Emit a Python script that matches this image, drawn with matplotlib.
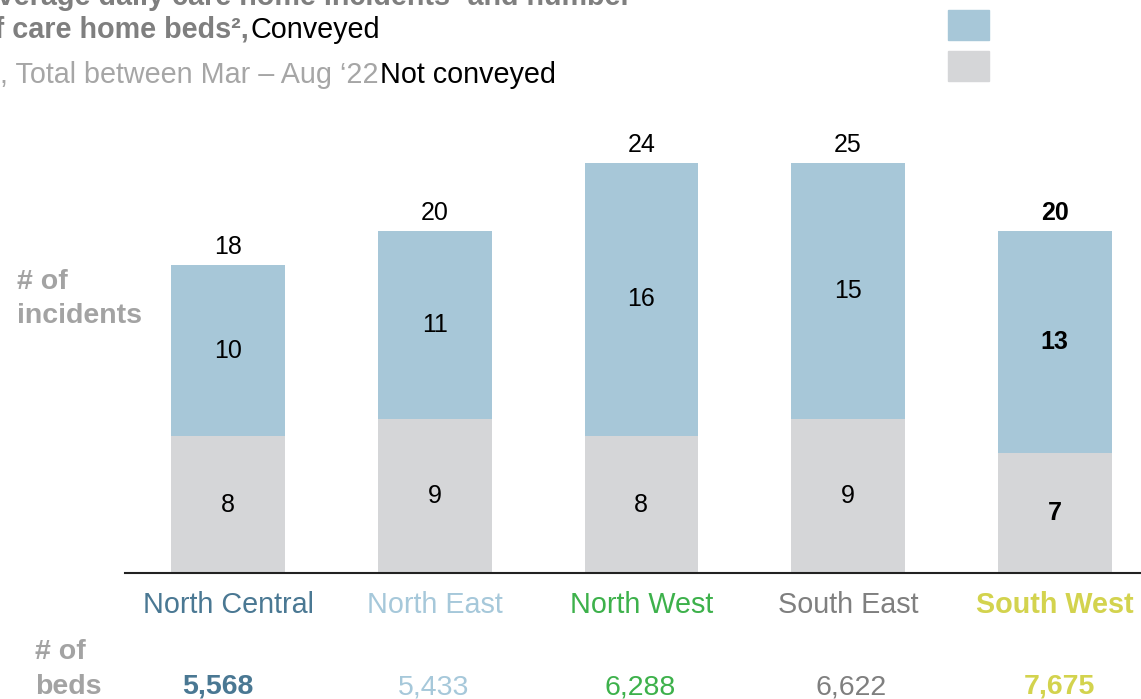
import numpy as np
import matplotlib.pyplot as plt

plt.rcParams['font.family'] = ['Liberation Sans', 'DejaVu Sans']

regions = ['North Central', 'North East', 'North West', 'South East', 'South West']
not_conveyed = [8, 9, 8, 9, 7]
conveyed = [10, 11, 16, 15, 13]
totals = [18, 20, 24, 25, 20]
beds = ['5,568', '5,433', '6,288', '6,622', '7,675']
region_colors = ['#4a7893', '#a6c8da', '#3db14b', '#7f7f7f', '#d3d34e']
bold_regions = [False, False, False, False, True]
bold_beds = [True, False, False, False, True]

W, H = 1141, 699
fig = plt.figure(figsize=(W / 100, H / 100), dpi=100)

def fx(px):
    return px / W

def fy(py):
    return 1 - py / H

# axes in pixel terms: baseline at y=573, from x=125 to the right edge
ax = fig.add_axes([fx(125), fy(573), fx(W - 125), (573 - 100) / H])
x = np.arange(len(regions))
width = 0.55
blue = '#a7c7d8'
grey = '#d5d6d8'
ax.bar(x, not_conveyed, width, color=grey)
ax.bar(x, conveyed, width, bottom=not_conveyed, color=blue)
ax.set_xlim(-0.498, 4.417)
ax.set_ylim(0, (573 - 100) / 17.1)

for i in range(len(regions)):
    w = 'bold' if bold_regions[i] else 'normal'
    ax.text(x[i], not_conveyed[i] / 2, str(not_conveyed[i]), ha='center', va='center',
            fontsize=18, fontweight=w, color='black')
    ax.text(x[i], not_conveyed[i] + conveyed[i] / 2, str(conveyed[i]), ha='center',
            va='center', fontsize=18, fontweight=w, color='black')
    ax.text(x[i], not_conveyed[i] + conveyed[i] + 0.35, str(totals[i]), ha='center',
            va='bottom', fontsize=18, fontweight=w, color='black')

for s in ['top', 'right', 'left']:
    ax.spines[s].set_visible(False)
ax.spines['bottom'].set_linewidth(1.5)
ax.spines['bottom'].set_color('#222222')
ax.set_xticks([])
ax.set_yticks([])

# region names and bed counts below the axis
bed_x = [218, 434, 640, 851, 1059]
for i in range(len(regions)):
    fig.text(fx(228 + i * 206.7), fy(605), regions[i], ha='center', va='center',
             fontsize=20.7, color=region_colors[i],
             fontweight='bold' if bold_regions[i] else 'normal')
    fig.text(fx(bed_x[i]), fy(687), beds[i], ha='center', va='center', fontsize=20.5,
             color=region_colors[i], fontweight='bold' if bold_beds[i] else 'normal')

side = dict(fontsize=20.5, fontweight='bold', color='#a3a3a3', va='center')
fig.text(fx(35), fy(652), '# of', **side)
fig.text(fx(35), fy(687), 'beds', **side)
fig.text(fx(17), fy(282), '# of', **side)
fig.text(fx(17), fy(316), 'incidents', **side)

# title block
fig.text(fx(632), fy(5), 'Average daily care home incidents\u00b9 and number', ha='right',
         va='baseline', fontsize=20.7, fontweight='bold', color='#7f7f7f')
fig.text(fx(249), fy(38), 'of care home beds\u00b2,', ha='right', va='baseline', fontsize=20.7,
         fontweight='bold', color='#7f7f7f')
fig.text(fx(251), fy(38), 'Conveyed', ha='left', va='baseline', fontsize=20.7, color='black')
fig.text(fx(379), fy(83), '#, Total between Mar \u2013 Aug \u201822', ha='right',
         va='baseline', fontsize=20.7, color='#a6a6a6')
fig.text(fx(380), fy(83), 'Not conveyed', ha='left', va='baseline', fontsize=20.7,
         color='black')

# legend swatches
for y0, c in [(10, blue), (51, grey)]:
    fig.patches.append(plt.Rectangle((fx(948), fy(y0 + 30)), fx(41), 30 / H,
                                     transform=fig.transFigure, color=c))

fig.savefig('out.png', dpi=100)
